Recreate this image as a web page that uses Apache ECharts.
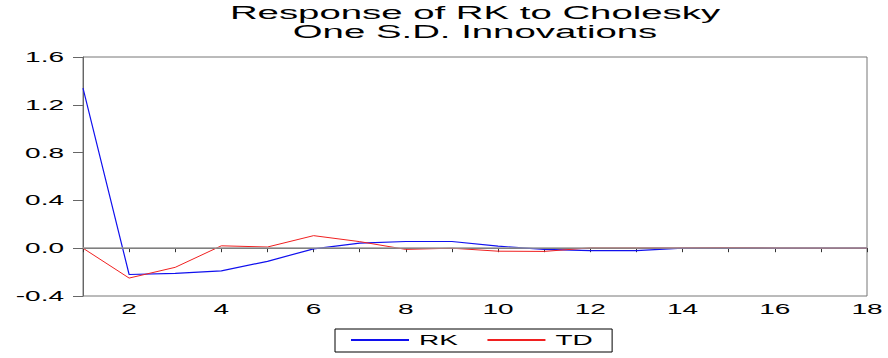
<!DOCTYPE html>
<html>
<head>
<meta charset="utf-8">
<script src="https://cdn.jsdelivr.net/npm/echarts@6/dist/echarts.min.js"></script>
<style>
  html, body { margin: 0; padding: 0; background: #fff; }
  #chart { width: 888px; height: 358px; }
</style>
</head>
<body>
<div id="chart"></div>
<script>
// ---- data ----
const periods = ['1','2','3','4','5','6','7','8','9','10','11','12','13','14','15','16','17','18'];
const rk = [1.34, -0.22, -0.21, -0.19, -0.11, -0.005, 0.042, 0.056, 0.056, 0.017, -0.01, -0.02, -0.02, 0.0, 0.005, 0.001, 0.0, 0.0];
const td = [0.0, -0.25, -0.16, 0.02, 0.01, 0.105, 0.055, -0.01, 0.0, -0.025, -0.027, 0.003, 0.003, 0.003, 0.005, 0.002, 0.001, 0.001];
const seriesNames = ['RK', 'TD'];
const titleLines = ['Response of RK to Cholesky', 'One S.D. Innovations'];
const yMin = -0.4, yMax = 1.6, yStep = 0.4;

// ---- style ----
const FONT = '"Liberation Sans", Arial, sans-serif';
const STRETCH = 2.0;        // horizontal text stretch seen in the reference
const TITLE_STRETCH = 2.13;

const chart = echarts.init(document.getElementById('chart'), null, { renderer: 'svg' });
chart.setOption({
  animation: false,
  backgroundColor: '#ffffff',
  title: {
    text: titleLines.join('\n'),
    left: 475,
    top: 3,
    padding: 0,
    textAlign: 'center',
    textStyle: { fontFamily: FONT, fontSize: 18, fontWeight: 'normal', color: '#000', lineHeight: 19 }
  },
  legend: {
    data: seriesNames,
    left: 335,
    top: 329,
    padding: [4, 38, 5, 15],
    itemWidth: 58,
    itemHeight: 14,
    itemGap: 48,
    itemStyle: { opacity: 0 },
    borderColor: '#000',
    borderWidth: 1,
    textStyle: { fontFamily: FONT, fontSize: 14, color: '#000', padding: [0, 0, 0, 5] }
  },
  grid: {
    left: 83, right: 21, top: 57, bottom: 62,
    show: true, borderColor: '#777', borderWidth: 1, containLabel: false
  },
  xAxis: {
    type: 'category',
    data: periods,
    boundaryGap: false,
    axisLine: { lineStyle: { color: '#333', width: 1 } },
    axisTick: { show: true, interval: 0, length: 4, inside: false, lineStyle: { color: '#333' } },
    axisLabel: {
      interval: function (idx, val) { return Number(val) % 2 === 0; },
      margin: 6,
      fontFamily: FONT, fontSize: 14, color: '#000'
    },
    splitLine: { show: false }
  },
  yAxis: {
    type: 'value',
    min: yMin, max: yMax, interval: yStep,
    axisLine: { show: true, lineStyle: { color: '#666', width: 1 } },
    axisTick: { show: true, length: 10, inside: false, lineStyle: { color: '#666' } },
    axisLabel: {
      margin: 19,
      formatter: function (v) { return v.toFixed(1); },
      fontFamily: FONT, fontSize: 14, color: '#000'
    },
    splitLine: { show: false }
  },
  series: [
    {
      name: seriesNames[0], type: 'line', data: rk,
      symbol: 'none', showSymbol: false,
      lineStyle: { color: '#1010ee', width: 1.2 },
      itemStyle: { color: '#1010ee' },
      z: 3,
      markLine: {
        silent: true, symbol: 'none', label: { show: false },
        lineStyle: { color: '#9a9a9a', width: 1.6, type: 'solid' },
        data: [{ yAxis: 0 }]
      }
    },
    {
      name: seriesNames[1], type: 'line', data: td,
      symbol: 'none', showSymbol: false,
      lineStyle: { color: '#f02020', width: 1 },
      itemStyle: { color: '#f02020' },
      z: 4
    }
  ]
});

function stretchText() {
  document.querySelectorAll('#chart text').forEach(function (t) {
    if (t.getAttribute('data-s')) return;
    const w = t.getComputedTextLength();
    if (!w) return;
    const f = titleLines.indexOf(t.textContent.trim()) >= 0 ? TITLE_STRETCH : STRETCH;
    t.setAttribute('textLength', (w * f).toFixed(2));
    t.setAttribute('lengthAdjust', 'spacingAndGlyphs');
    t.setAttribute('data-s', '1');
  });
}
stretchText();
chart.on('finished', stretchText);
</script>
</body>
</html>
